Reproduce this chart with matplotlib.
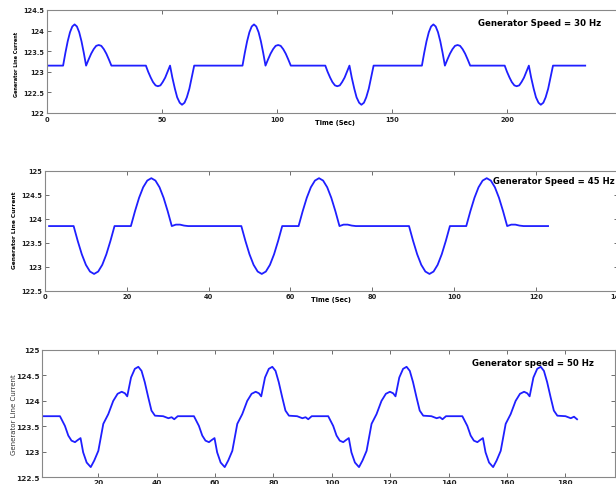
import matplotlib
matplotlib.use('Agg')
import matplotlib.pyplot as plt

# ---- 30 Hz ----
t30 = [0, 7, 8, 9, 10, 11, 12, 13, 14, 15, 16, 17, 18.1, 19.2, 20.3, 21.4, 22.5, 23.6, 24.7, 25.8, 26.9, 28,
       43, 44, 45.1, 46.1, 47.2, 48.2, 49.3, 50.3, 51.4, 52.4, 53.5, 54.5, 55.6, 56.6, 57.7, 58.7, 59.8, 60.8, 61.9, 62.9, 64,
       85, 86, 87, 88, 89, 90, 91, 92, 93, 94, 95, 96.1, 97.2, 98.3, 99.4, 100.5, 101.6, 102.7, 103.8, 104.9, 106,
       121, 122, 123.1, 124.1, 125.2, 126.2, 127.3, 128.3, 129.4, 130.4, 131.5, 132.5, 133.6, 134.6, 135.7, 136.7, 137.8, 138.8, 139.9, 140.9, 142,
       163, 164, 165, 166, 167, 168, 169, 170, 171, 172, 173, 174.1, 175.2, 176.3, 177.4, 178.5, 179.6, 180.7, 181.8, 182.9, 184,
       199, 200, 201.1, 202.1, 203.2, 204.2, 205.3, 206.3, 207.4, 208.4, 209.5, 210.5, 211.6, 212.6, 213.7, 214.7, 215.8, 216.8, 217.9, 218.9, 220,
       234]
v30 = [123.15, 123.15, 123.46, 123.74, 123.96, 124.1, 124.15, 124.1, 123.96, 123.74, 123.46, 123.15, 123.3, 123.44, 123.55, 123.63, 123.65, 123.63, 123.55, 123.44, 123.3, 123.15,
       123.15, 123.0, 122.86, 122.75, 122.67, 122.65, 122.67, 122.75, 122.86, 123.0, 123.15, 122.86, 122.59, 122.38, 122.25, 122.2, 122.25, 122.38, 122.59, 122.86, 123.15,
       123.15, 123.46, 123.74, 123.96, 124.1, 124.15, 124.1, 123.96, 123.74, 123.46, 123.15, 123.3, 123.44, 123.55, 123.63, 123.65, 123.63, 123.55, 123.44, 123.3, 123.15,
       123.15, 123.0, 122.86, 122.75, 122.67, 122.65, 122.67, 122.75, 122.86, 123.0, 123.15, 122.86, 122.59, 122.38, 122.25, 122.2, 122.25, 122.38, 122.59, 122.86, 123.15,
       123.15, 123.46, 123.74, 123.96, 124.1, 124.15, 124.1, 123.96, 123.74, 123.46, 123.15, 123.3, 123.44, 123.55, 123.63, 123.65, 123.63, 123.55, 123.44, 123.3, 123.15,
       123.15, 123.0, 122.86, 122.75, 122.67, 122.65, 122.67, 122.75, 122.86, 123.0, 123.15, 122.86, 122.59, 122.38, 122.25, 122.2, 122.25, 122.38, 122.59, 122.86, 123.15,
       123.15]

# ---- 45 Hz ----
t45 = [1, 7, 8, 9, 10, 11, 12, 13, 14, 15, 16, 17, 21, 22, 23, 24, 25, 26, 27, 28, 29, 30, 31, 32, 33, 34, 35,
       48, 49, 50, 51, 52, 53, 54, 55, 56, 57, 58, 62, 63, 64, 65, 66, 67, 68, 69, 70, 71, 72, 73, 74, 75, 76,
       89, 90, 91, 92, 93, 94, 95, 96, 97, 98, 99, 103, 104, 105, 106, 107, 108, 109, 110, 111, 112, 113, 114, 115, 116, 117,
       123]
v45 = [123.85, 123.85, 123.54, 123.26, 123.04, 122.9, 122.85, 122.9, 123.04, 123.26, 123.54, 123.85,
       123.85, 124.16, 124.44, 124.66, 124.8, 124.85, 124.8, 124.66, 124.44, 124.16, 123.85, 123.88, 123.88, 123.86, 123.85,
       123.85, 123.54, 123.26, 123.04, 122.9, 122.85, 122.9, 123.04, 123.26, 123.54, 123.85,
       123.85, 124.16, 124.44, 124.66, 124.8, 124.85, 124.8, 124.66, 124.44, 124.16, 123.85, 123.88, 123.88, 123.86, 123.85,
       123.85, 123.54, 123.26, 123.04, 122.9, 122.85, 122.9, 123.04, 123.26, 123.54, 123.85,
       123.85, 124.16, 124.44, 124.66, 124.8, 124.85, 124.8, 124.66, 124.44, 124.16, 123.85, 123.88, 123.88, 123.86, 123.85,
       123.85]

# ---- 50 Hz ----
t50 = [1,
       6.85, 8.55, 9.7, 10.8, 12.0, 12.9, 13.9, 14.8, 16.0, 17.4, 18.6, 20.0, 21.7, 23.4, 25.1, 26.6, 28.0, 29.1, 29.9, 31.2, 32.5, 33.7, 34.8, 35.9, 37.1, 38.2, 39.4, 42.2, 44.0, 45.1, 46.0, 47.2,
       52.75, 54.45, 55.6, 56.7, 57.9, 58.8, 59.8, 60.7, 61.9, 63.3, 64.5, 65.9, 67.6, 69.3, 71.0, 72.5, 73.9, 75.0, 75.8, 77.1, 78.4, 79.6, 80.7, 81.8, 83.0, 84.1, 85.3, 88.1, 89.9, 91.0, 91.9, 93.1,
       98.75, 100.45, 101.6, 102.7, 103.9, 104.8, 105.8, 106.7, 107.9, 109.3, 110.5, 111.9, 113.6, 115.3, 117.0, 118.5, 119.9, 121.0, 121.8, 123.1, 124.4, 125.6, 126.7, 127.8, 129.0, 130.1, 131.3, 134.1, 135.9, 137.0, 137.9, 139.1,
       144.7, 146.4, 147.55, 148.65, 149.85, 150.75, 151.75, 152.65, 153.85, 155.25, 156.45, 157.85, 159.55, 161.25, 162.95, 164.45, 165.85, 166.95, 167.75, 169.05, 170.35, 171.55, 172.65, 173.75, 174.95, 176.05, 177.25, 180.05, 181.85, 182.95, 184.0]
v50 = [123.7,
       123.7, 123.51, 123.32, 123.22, 123.19, 123.23, 123.27, 122.99, 122.79, 122.7, 122.83, 123.02, 123.55, 123.74, 124.0, 124.14, 124.18, 124.15, 124.09, 124.46, 124.63, 124.67, 124.59, 124.37, 124.07, 123.81, 123.71, 123.7, 123.66, 123.68, 123.64, 123.7,
       123.7, 123.51, 123.32, 123.22, 123.19, 123.23, 123.27, 122.99, 122.79, 122.7, 122.83, 123.02, 123.55, 123.74, 124.0, 124.14, 124.18, 124.15, 124.09, 124.46, 124.63, 124.67, 124.59, 124.37, 124.07, 123.81, 123.71, 123.7, 123.66, 123.68, 123.64, 123.7,
       123.7, 123.51, 123.32, 123.22, 123.19, 123.23, 123.27, 122.99, 122.79, 122.7, 122.83, 123.02, 123.55, 123.74, 124.0, 124.14, 124.18, 124.15, 124.09, 124.46, 124.63, 124.67, 124.59, 124.37, 124.07, 123.81, 123.71, 123.7, 123.66, 123.68, 123.64, 123.7,
       123.7, 123.51, 123.32, 123.22, 123.19, 123.23, 123.27, 122.99, 122.79, 122.7, 122.83, 123.02, 123.55, 123.74, 124.0, 124.14, 124.18, 124.15, 124.09, 124.46, 124.63, 124.67, 124.59, 124.37, 124.07, 123.81, 123.71, 123.7, 123.66, 123.69, 123.64]

ticks30 = [0, 50, 100, 150, 200]
yt30 = [122, 122.5, 123, 123.5, 124, 124.5]
ticks45 = [0, 20, 40, 60, 80, 100, 120, 140]
ticks50 = [20, 40, 60, 80, 100, 120, 140, 160, 180]
yt45 = [122.5, 123, 123.5, 124, 124.5, 125]

W, H = 616, 485
fig = plt.figure(figsize=(W / 100, H / 100), dpi=100)
fig.patch.set_facecolor('white')


def make_ax(l, t, r, b):
    return fig.add_axes([l / W, 1 - b / H, (r - l) / W, (b - t) / H])


def style(ax, xt, yt, fs=4.8, bold=True):
    ax.set_xticks(xt)
    ax.set_yticks(yt)
    ax.set_yticklabels([('%g' % v) for v in yt])
    ax.tick_params(direction='in', length=3, width=0.6, color='#555555', top=True, right=True,
                   labelsize=fs, pad=2, labelcolor='#222222')
    for lab in ax.get_xticklabels() + ax.get_yticklabels():
        lab.set_fontweight('bold' if bold else 'normal')
    for s in ax.spines.values():
        s.set_color('#888888')
        s.set_linewidth(0.8)


blue = '#1f1fff'

ax1 = make_ax(47, 11, 622, 114)
ax1.plot(t30, v30, color=blue, lw=1.3)
ax1.set_xlim(0, 250)
ax1.set_ylim(122, 124.5)
style(ax1, ticks30, yt30)
ax1.text(0.75, 0.874, 'Generator Speed = 30 Hz', transform=ax1.transAxes, fontsize=6.2,
         fontweight='bold', va='center', ha='left')

ax2 = make_ax(45, 172, 617.6, 291.7)
ax2.plot(t45, v45, color=blue, lw=1.3)
ax2.set_xlim(0, 140)
ax2.set_ylim(122.5, 125)
style(ax2, ticks45, yt45)
ax2.text(0.782, 0.921, 'Generator Speed = 45 Hz', transform=ax2.transAxes, fontsize=6.1,
         fontweight='bold', va='center', ha='left')

ax3 = make_ax(42.3, 351, 615, 478.3)
ax3.plot(t50, v50, color=blue, lw=1.3)
ax3.set_xlim(0.8, 197)
ax3.set_ylim(122.5, 125)
style(ax3, ticks50, yt45, fs=5.3)
ax3.tick_params(axis='x', pad=1.5)
ax3.text(0.75, 0.903, 'Generator speed = 50 Hz', transform=ax3.transAxes, fontsize=6.2,
         fontweight='bold', va='center', ha='left')

fig.text(335 / W, 1 - 123 / H, 'Time (Sec)', fontsize=4.8, fontweight='bold', ha='center', va='center')
fig.text(331 / W, 1 - 300 / H, 'Time (Sec)', fontsize=4.8, fontweight='bold', ha='center', va='center')

fig.text(17 / W, 1 - 64 / H, 'Generator Line Current', fontsize=4, fontweight='bold', rotation=90,
         ha='center', va='center', fontstretch='condensed')
fig.text(15 / W, 1 - 230 / H, 'Generator Line Current', fontsize=4.2, fontweight='bold', rotation=90,
         ha='center', va='center')
fig.text(14 / W, 1 - 415 / H, 'Generator Line Current', fontsize=5, rotation=90,
         ha='center', va='center', color='#333333')

fig.savefig('out.png', dpi=100)
